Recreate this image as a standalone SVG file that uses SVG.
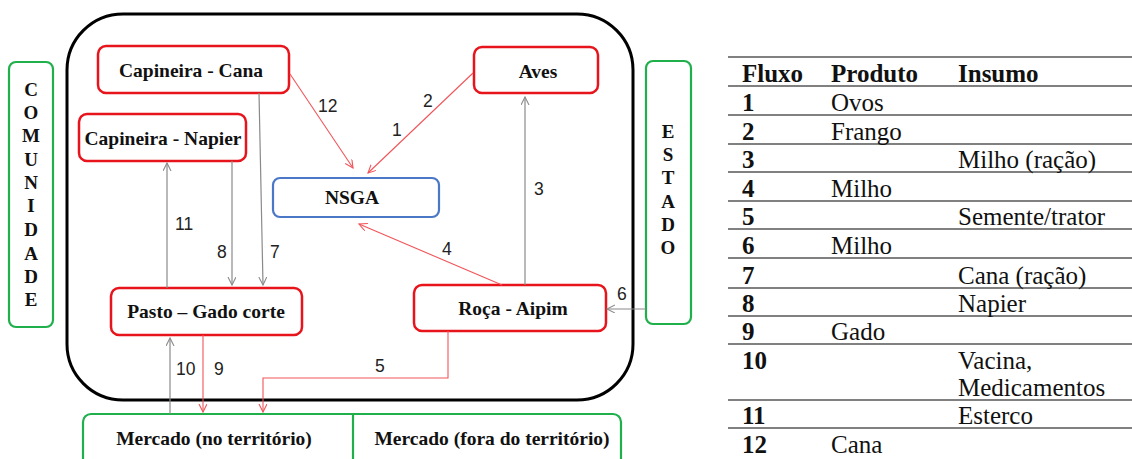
<svg xmlns="http://www.w3.org/2000/svg" width="1132" height="459" viewBox="0 0 1132 459">
<style>
.bg{fill:#fff}
.node{fill:#fff;stroke:#e8141c;stroke-width:2.5}
.blue{fill:#fff;stroke:#4a78c6;stroke-width:2.2}
.green{fill:#fff;stroke:#1fb04c;stroke-width:2.2}
.lbl{font-family:"Liberation Serif","Times New Roman",serif;font-weight:bold;font-size:19.5px;fill:#111;text-anchor:middle}
.vert{font-family:"Liberation Serif","Times New Roman",serif;font-weight:bold;font-size:19px;fill:#111;text-anchor:middle}
.num{font-family:"Liberation Sans",Arial,sans-serif;font-size:17.5px;fill:#222}
.red{fill:none;stroke:#f0555a;stroke-width:1.1}
.gray{fill:none;stroke:#8a8a8a;stroke-width:1.2}
.tb{font-family:"Liberation Serif","Times New Roman",serif;font-size:25px;fill:#111}
.tbb{font-family:"Liberation Serif","Times New Roman",serif;font-size:25px;font-weight:bold;fill:#111}
.tl{stroke:#808080;stroke-width:2}
</style>
<defs>
<marker id="ar" markerWidth="10" markerHeight="10" refX="8" refY="4" orient="auto" markerUnits="userSpaceOnUse"><path d="M0,0 L8,4 L0,8" fill="none" stroke="#f0555a" stroke-width="1.1"/></marker>
<marker id="ag" markerWidth="10" markerHeight="10" refX="8" refY="4" orient="auto" markerUnits="userSpaceOnUse"><path d="M0,0 L8,4 L0,8" fill="none" stroke="#8a8a8a" stroke-width="1.1"/></marker>
</defs>
<rect class="bg" width="1132" height="459"/>

<g id="sistema">
<rect x="67" y="14" width="566" height="386" rx="56" fill="none" stroke="#000" stroke-width="3"/>
</g>

<g id="comunidade">
<rect class="green" x="9" y="62" width="44" height="265" rx="7"/>
<text class="vert" x="31" y="96">C</text>
<text class="vert" x="31" y="119">O</text>
<text class="vert" x="31" y="142">M</text>
<text class="vert" x="31" y="166">U</text>
<text class="vert" x="31" y="189">N</text>
<text class="vert" x="31" y="212">I</text>
<text class="vert" x="31" y="236">D</text>
<text class="vert" x="31" y="260">A</text>
<text class="vert" x="31" y="283">D</text>
<text class="vert" x="31" y="306">E</text>
</g>

<g id="estado">
<rect class="green" x="646" y="61" width="45" height="263" rx="7"/>
<text class="vert" x="668" y="138">E</text>
<text class="vert" x="668" y="161">S</text>
<text class="vert" x="668" y="184">T</text>
<text class="vert" x="668" y="208">A</text>
<text class="vert" x="668" y="231">D</text>
<text class="vert" x="668" y="254">O</text>
</g>

<g id="capineira-cana">
<rect class="node" x="98" y="46" width="191" height="47" rx="8"/>
<text class="lbl" x="191" y="77">Capineira - Cana</text>
</g>
<g id="capineira-napier">
<rect class="node" x="79" y="114" width="167" height="47" rx="8"/>
<text class="lbl" x="163" y="145">Capineira - Napier</text>
</g>
<g id="nsga">
<rect class="blue" x="273" y="178" width="166" height="39" rx="7"/>
<text class="lbl" x="352" y="204">NSGA</text>
</g>
<g id="aves">
<rect class="node" x="474" y="47" width="124" height="46" rx="8"/>
<text class="lbl" x="538" y="78">Aves</text>
</g>
<g id="pasto">
<rect class="node" x="111" y="288" width="191" height="47" rx="8"/>
<text class="lbl" x="206" y="318">Pasto – Gado corte</text>
</g>
<g id="roca">
<rect class="node" x="414" y="285" width="192" height="46" rx="8"/>
<text class="lbl" x="513" y="315">Roça - Aipim</text>
</g>
<g id="mercado">
<rect class="green" x="83" y="414" width="538" height="70" rx="8"/>
<line x1="353" y1="414" x2="353" y2="459" stroke="#1fb04c" stroke-width="2.2"/>
<text class="lbl" x="214" y="445">Mercado (no território)</text>
<text class="lbl" x="492" y="445">Mercado (fora do território)</text>
</g>

<g id="connectors">
<line class="red" x1="290" y1="74" x2="353" y2="168" marker-end="url(#ar)"/>
<line class="red" x1="473" y1="73" x2="368" y2="173" marker-end="url(#ar)"/>
<line class="gray" x1="525" y1="285" x2="525" y2="97" marker-end="url(#ag)"/>
<line class="red" x1="502" y1="285" x2="359" y2="224" marker-end="url(#ar)"/>
<line class="gray" x1="646" y1="309" x2="607" y2="309" marker-end="url(#ag)"/>
<polyline class="red" points="448,331 448,378 263,378 263,412" marker-end="url(#ar)"/>
<line class="gray" x1="167" y1="288" x2="167" y2="163" marker-end="url(#ag)"/>
<line class="gray" x1="232" y1="161" x2="232" y2="285" marker-end="url(#ag)"/>
<line class="gray" x1="259" y1="93" x2="263" y2="285" marker-end="url(#ag)"/>
<line class="gray" x1="170" y1="414" x2="170" y2="338" marker-end="url(#ag)"/>
<line class="red" x1="203" y1="335" x2="203" y2="412" marker-end="url(#ar)"/>
<text class="num" x="318" y="112">12</text>
<text class="num" x="423" y="107">2</text>
<text class="num" x="392" y="136">1</text>
<text class="num" x="534" y="195">3</text>
<text class="num" x="442" y="255">4</text>
<text class="num" x="617" y="300">6</text>
<text class="num" x="375" y="372">5</text>
<text class="num" x="175" y="230">11</text>
<text class="num" x="217" y="258">8</text>
<text class="num" x="270" y="258">7</text>
<text class="num" x="176" y="375">10</text>
<text class="num" x="214" y="375">9</text>
</g>

<g id="tabela">
<line class="tl" x1="728" y1="57" x2="1132" y2="57"/>
<line class="tl" x1="728" y1="86" x2="1132" y2="86"/>
<line class="tl" x1="728" y1="115" x2="1132" y2="115"/>
<line class="tl" x1="728" y1="144" x2="1132" y2="144"/>
<line class="tl" x1="728" y1="172" x2="1132" y2="172"/>
<line class="tl" x1="728" y1="201" x2="1132" y2="201"/>
<line class="tl" x1="728" y1="229" x2="1132" y2="229"/>
<line class="tl" x1="728" y1="258" x2="1132" y2="258"/>
<line class="tl" x1="728" y1="288" x2="1132" y2="288"/>
<line class="tl" x1="728" y1="316" x2="1132" y2="316"/>
<line class="tl" x1="728" y1="344" x2="1132" y2="344"/>
<line class="tl" x1="728" y1="400" x2="1132" y2="400"/>
<line class="tl" x1="728" y1="428" x2="1132" y2="428"/>
<text class="tbb" x="742" y="82">Fluxo</text>
<text class="tbb" x="831" y="82">Produto</text>
<text class="tbb" x="958" y="82">Insumo</text>
<text class="tbb" x="742" y="111">1</text><text class="tb" x="831" y="111">Ovos</text>
<text class="tbb" x="742" y="140">2</text><text class="tb" x="831" y="140">Frango</text>
<text class="tbb" x="742" y="168">3</text><text class="tb" x="958" y="168">Milho (ração)</text>
<text class="tbb" x="742" y="197">4</text><text class="tb" x="831" y="197">Milho</text>
<text class="tbb" x="742" y="225">5</text><text class="tb" x="958" y="225">Semente/trator</text>
<text class="tbb" x="742" y="254">6</text><text class="tb" x="831" y="254">Milho</text>
<text class="tbb" x="742" y="284">7</text><text class="tb" x="958" y="284">Cana (ração)</text>
<text class="tbb" x="742" y="312">8</text><text class="tb" x="958" y="312">Napier</text>
<text class="tbb" x="742" y="340">9</text><text class="tb" x="831" y="340">Gado</text>
<text class="tbb" x="742" y="369">10</text><text class="tb" x="958" y="369">Vacina,</text>
<text class="tb" x="958" y="396">Medicamentos</text>
<text class="tbb" x="742" y="424">11</text><text class="tb" x="958" y="424">Esterco</text>
<text class="tbb" x="742" y="453">12</text><text class="tb" x="831" y="453">Cana</text>
</g>
</svg>
